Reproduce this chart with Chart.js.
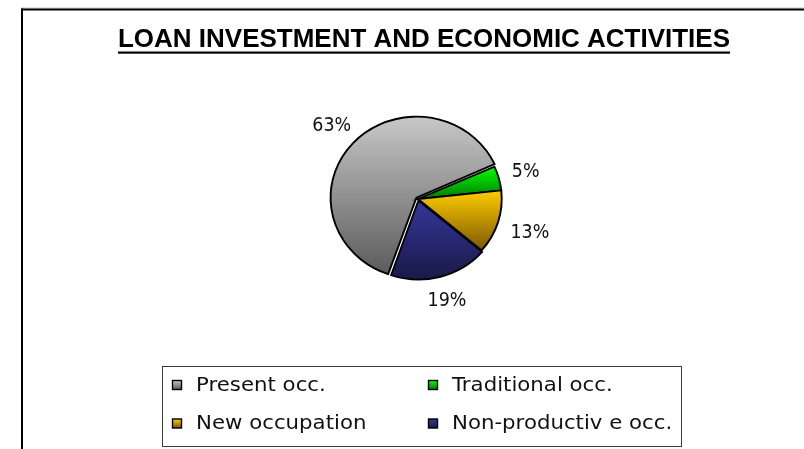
<!DOCTYPE html>
<html>
<head>
<meta charset="utf-8">
<script src="https://cdn.jsdelivr.net/npm/chart.js@4.4.1/dist/chart.umd.min.js"></script>
<style>
  html, body { margin: 0; padding: 0; background: #ffffff; overflow: hidden; }
  #wrap { position: relative; width: 804px; height: 449px; }
</style>
</head>
<body>
<div id="wrap"><canvas id="loanPie" width="804" height="449"></canvas></div>
<script>
// ---- data ----
const chartTitle = 'LOAN INVESTMENT AND ECONOMIC ACTIVITIES';
const categories = ['Present occ.', 'Traditional occ.', 'New occupation', 'Non-productiv e occ.'];
const shares = [63, 5, 13, 19];

// ---- styling ----
const sliceTop    = ['#c6c6c6', '#00ff00', '#ffcc00', '#36369c'];
const sliceBottom = ['#5c5c5c', '#007c00', '#7a5800', '#191948'];
const sliceOffset = [8, 0, 0, 6];
const PIE_RADIUS = 79;
const PIE_ROTATION = 199;     // degrees, first slice starts lower-left
const PIE_STRETCH = 1.06;     // pie is drawn slightly wider than tall
const TEXT_FONT = '"DejaVu Sans", "Liberation Sans", sans-serif';

function sliceRange(i) {
  const total = shares.reduce((a, b) => a + b, 0);
  let a0 = (PIE_ROTATION - 90) * Math.PI / 180;
  for (let k = 0; k < i; k++) a0 += shares[k] / total * Math.PI * 2;
  return [a0, a0 + shares[i] / total * Math.PI * 2];
}

// vertical gradient spanning each slice's own height
function sliceGradient(ctx) {
  const i = ctx.dataIndex;
  const chart = ctx.chart;
  const area = chart.chartArea;
  if (!area || i === undefined) return sliceTop[i] || '#999999';
  const cy = (area.top + area.bottom) / 2;
  const [a0, a1] = sliceRange(i);
  let minY = cy, maxY = cy;
  for (let s = 0; s <= 60; s++) {
    const y = cy + Math.sin(a0 + (a1 - a0) * s / 60) * PIE_RADIUS;
    minY = Math.min(minY, y);
    maxY = Math.max(maxY, y);
  }
  const g = chart.ctx.createLinearGradient(0, minY, 0, maxY);
  g.addColorStop(0, sliceTop[i]);
  g.addColorStop(1, sliceBottom[i]);
  return g;
}

// outer frame lines
const framePlugin = {
  id: 'frame',
  beforeDraw(chart) {
    const c = chart.ctx;
    c.save();
    c.fillStyle = '#ffffff';
    c.fillRect(0, 0, chart.width, chart.height);
    c.fillStyle = '#c8c8c8';
    c.fillRect(21, 7.5, chart.width - 21, 1);
    c.fillStyle = '#000000';
    c.fillRect(21, 8.5, chart.width - 21, 2);
    c.fillRect(21, 8.5, 2, chart.height - 8.5);
    c.restore();
  }
};

// underlined title, fitted to its width
const titlePlugin = {
  id: 'underlinedTitle',
  afterDraw(chart) {
    const c = chart.ctx;
    const left = 118, right = 730, baseline = 47;
    c.save();
    c.font = 'bold 25px "Liberation Sans Narrow", "Liberation Sans", Arial, sans-serif';
    c.fillStyle = '#000000';
    c.textBaseline = 'alphabetic';
    const w = c.measureText(chartTitle).width;
    c.translate(left, baseline);
    c.scale((right - left) / w, 1);
    c.fillText(chartTitle, 0, 0);
    c.restore();
    c.save();
    c.fillStyle = '#000000';
    c.fillRect(left, 51.5, right - left, 2.2);
    c.restore();
  }
};

// horizontal stretch of the pie around its centre
const stretchPlugin = {
  id: 'stretchPie',
  beforeDatasetsDraw(chart) {
    const a = chart.chartArea;
    const cx = (a.left + a.right) / 2;
    const c = chart.ctx;
    c.save();
    c.translate(cx, 0);
    c.scale(PIE_STRETCH, 1);
    c.translate(-cx, 0);
  },
  afterDatasetsDraw(chart) {
    chart.ctx.restore();
  }
};

// percentage labels outside each slice
const percentPlugin = {
  id: 'percentLabels',
  afterDatasetsDraw(chart) {
    const meta = chart.getDatasetMeta(0);
    const values = chart.data.datasets[0].data;
    const c = chart.ctx;
    const gap = 11, hh = 10, sx = 0.92;
    c.save();
    c.font = '19px ' + TEXT_FONT;
    c.fillStyle = '#111111';
    c.textAlign = 'center';
    c.textBaseline = 'middle';
    meta.data.forEach((arc, i) => {
      const mid = (arc.startAngle + arc.endAngle) / 2;
      const text = values[i] + '%';
      const hw = c.measureText(text).width * sx / 2 / PIE_STRETCH;
      const cos = Math.cos(mid), sin = Math.sin(mid);
      const d = PIE_RADIUS + gap + Math.abs(cos) * hw + Math.abs(sin) * hh;
      const x = arc.x + cos * d * PIE_STRETCH;
      const y = arc.y + sin * d;
      c.save();
      c.translate(x, y + 1);
      c.scale(sx, 1);
      c.fillText(text, 0, 0);
      c.restore();
    });
    c.restore();
  }
};

// boxed two-column legend
const legendPlugin = {
  id: 'boxLegend',
  afterDraw(chart) {
    const c = chart.ctx;
    const box = { x: 162.5, y: 366.5, w: 519, h: 80 };
    const cols = [172.5, 428.5];
    const rows = [385, 423.5];
    const sq = 9, textGap = 14.5, sx = 1.12;
    c.save();
    c.strokeStyle = '#3a3a3a';
    c.lineWidth = 1;
    c.strokeRect(box.x, box.y, box.w, box.h);
    c.font = '19px ' + TEXT_FONT;
    c.textBaseline = 'middle';
    c.fillStyle = '#111111';
    categories.forEach((label, i) => {
      const x = cols[i % 2], y = rows[Math.floor(i / 2)];
      const g = c.createLinearGradient(0, y - sq / 2, 0, y + sq / 2);
      g.addColorStop(0, sliceTop[i]);
      g.addColorStop(1, sliceBottom[i]);
      c.fillStyle = g;
      c.fillRect(x, y - sq / 2, sq, sq);
      c.strokeStyle = '#000000';
      c.lineWidth = 1.4;
      c.strokeRect(x, y - sq / 2, sq, sq);
      c.fillStyle = '#111111';
      c.save();
      c.translate(x + sq + textGap, y + 1);
      c.scale(sx, 1);
      c.fillText(label, 0, 0);
      c.restore();
    });
    c.restore();
  }
};

new Chart(document.getElementById('loanPie'), {
  type: 'pie',
  data: {
    labels: categories,
    datasets: [{
      data: shares,
      backgroundColor: sliceGradient,
      borderColor: '#000000',
      borderWidth: 1.8,
      borderJoinStyle: 'miter',
      offset: sliceOffset
    }]
  },
  options: {
    responsive: false,
    animation: false,
    radius: PIE_RADIUS,
    rotation: PIE_ROTATION,
    layout: { padding: { left: 120, right: 88, top: 100, bottom: 151 } },
    plugins: {
      legend: { display: false },
      title: { display: false },
      tooltip: { enabled: false }
    }
  },
  plugins: [framePlugin, stretchPlugin, percentPlugin, titlePlugin, legendPlugin]
});
</script>
</body>
</html>
